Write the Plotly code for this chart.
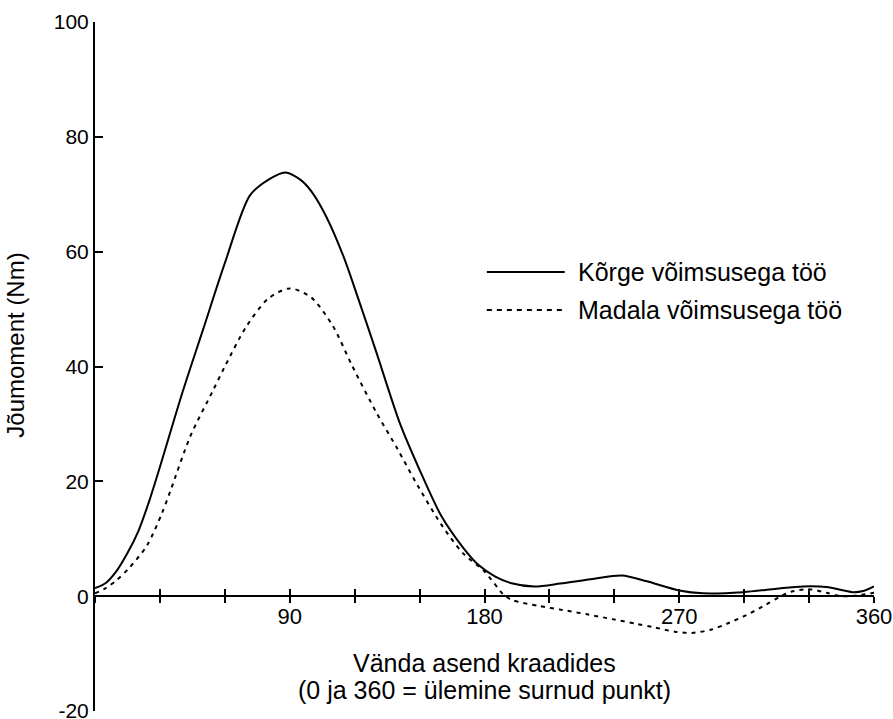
import plotly.graph_objects as go

# crank angle (degrees) and torque (Nm)
deg_high = [0, 5, 10, 15, 20, 25, 30, 40, 50, 60, 71.6, 80, 88, 95, 100, 107, 115, 121.5,
            130, 141, 150, 160, 170, 177, 185, 192, 203, 215, 230, 243.5, 255, 270, 281,
            299.5, 315, 327, 338, 350, 355, 360]
val_high = [1.4, 2.3, 4.4, 7.5, 11.3, 16.5, 22.5, 35, 46.5, 58, 69.8, 72.5, 73.8, 72.5, 70.5,
            66, 59, 52, 42.5, 30, 22, 14, 8.5, 5.5, 3.4, 2.3, 1.7, 2.2, 3.0, 3.6, 2.6, 1.0,
            0.5, 0.7, 1.3, 1.7, 1.6, 0.7, 0.9, 1.7]

deg_low = [0, 5, 10, 16, 24, 31, 35, 44, 54.5, 60, 70, 80, 90, 100, 110, 119, 130, 140,
           148, 160, 170, 180, 189, 193, 205, 216, 228, 239, 250, 258, 268, 276, 285, 292,
           301, 310, 316.5, 322, 330, 338, 345, 352, 360]
val_low = [0.5, 1.4, 2.8, 5, 8.8, 14.5, 18.5, 27.8, 35.8, 40, 47, 51.8, 53.6, 52, 47, 40,
           32, 25.5, 20, 12.5, 7.5, 4.3, 0.2, -0.7, -1.7, -2.4, -3.2, -4.0, -4.8,
           -5.4, -6.2, -6.4, -5.8, -4.8, -3.3, -1.5, -0.1, 0.8, 1.2, 0.6, 0.0, 0.1, 0.6]

x_ticks = [0, 30, 60, 90, 120, 150, 180, 210, 240, 270, 300, 330, 360]
x_labels = ["", "", "", "90", "", "", "180", "", "", "270", "", "", "360"]
y_ticks = [-20, 0, 20, 40, 60, 80, 100]
y_labels = ["-20", "0", "20", "40", "60", "80", "100"]

names = ["Kõrge võimsusega töö", "Madala võimsusega töö"]
x_title = ["Vända asend kraadides", "(0 ja 360 = ülemine surnud punkt)"]
y_title = "Jõumoment (Nm)"

FONT = "Liberation Sans, Arial, sans-serif"

fig = go.Figure()
fig.add_trace(go.Scatter(x=deg_high, y=val_high, mode="lines", name=names[0],
                         line=dict(color="black", width=2, shape="spline", smoothing=0.8)))
fig.add_trace(go.Scatter(x=deg_low, y=val_low, mode="lines", name=names[1],
                         line=dict(color="black", width=2, dash="4px,5px",
                                   shape="spline", smoothing=0.8)))

fig.update_layout(
    width=893, height=719,
    margin=dict(l=95, r=19, t=22, b=8, autoexpand=False),
    paper_bgcolor="white", plot_bgcolor="white",
    font=dict(family=FONT, size=22, color="black"),
    showlegend=False,
    # main x axis sits on y=0; labelled, ticks pointing up
    xaxis=dict(range=[0, 360], anchor="free", position=20 / 120, automargin=False,
               showline=True, linecolor="black", linewidth=2,
               tickvals=x_ticks, ticktext=x_labels, ticks="inside", ticklen=6,
               tickwidth=2, tickcolor="black", showgrid=False, zeroline=False),
    # second copy only for the downward half of the crossing ticks
    xaxis2=dict(range=[0, 360], overlaying="x", anchor="free", position=20 / 120,
                side="bottom", tickvals=x_ticks, showticklabels=False, automargin=False,
                ticks="outside", ticklen=6, tickwidth=2, tickcolor="black",
                showgrid=False, zeroline=False, showline=False),
    yaxis=dict(range=[-20, 100], showline=True, linecolor="black", linewidth=2,
               automargin=False, ticklabeloverflow="allow", tickfont=dict(size=21),
               tickvals=y_ticks, ticktext=y_labels, ticks="inside", ticklen=8,
               tickwidth=2, tickcolor="black", showgrid=False, zeroline=False),
)

# invisible helper trace so xaxis2 gets drawn
fig.add_trace(go.Scatter(x=[0], y=[None], xaxis="x2", showlegend=False, hoverinfo="skip"))

# axis titles as annotations (tight leading like the original)
fig.add_annotation(text=y_title, textangle=-90, xref="paper", yref="paper",
                   x=-0.102, y=0.531, xanchor="center", yanchor="middle",
                   showarrow=False, font=dict(size=24))
for txt, ty in zip(x_title, [0.069, 0.030]):
    fig.add_annotation(text=txt, xref="paper", yref="paper", x=0.5, y=ty,
                       xanchor="center", yanchor="middle", showarrow=False,
                       font=dict(size=25))

# hand-drawn legend like the original
leg_y = [0.637, 0.582]
leg_dash = ["solid", "5px,5px"]
for name, ly, ld in zip(names, leg_y, leg_dash):
    fig.add_shape(type="line", xref="paper", yref="paper", x0=0.503, x1=0.603, y0=ly, y1=ly,
                  line=dict(color="black", width=2, dash=ld))
    fig.add_annotation(text=name, xref="paper", yref="paper", x=0.617, y=ly,
                       xanchor="left", yanchor="middle", showarrow=False,
                       font=dict(size=25))

fig.write_html("out.html", config={"displayModeBar": False},
               post_script="document.body.style.margin='0px';")
